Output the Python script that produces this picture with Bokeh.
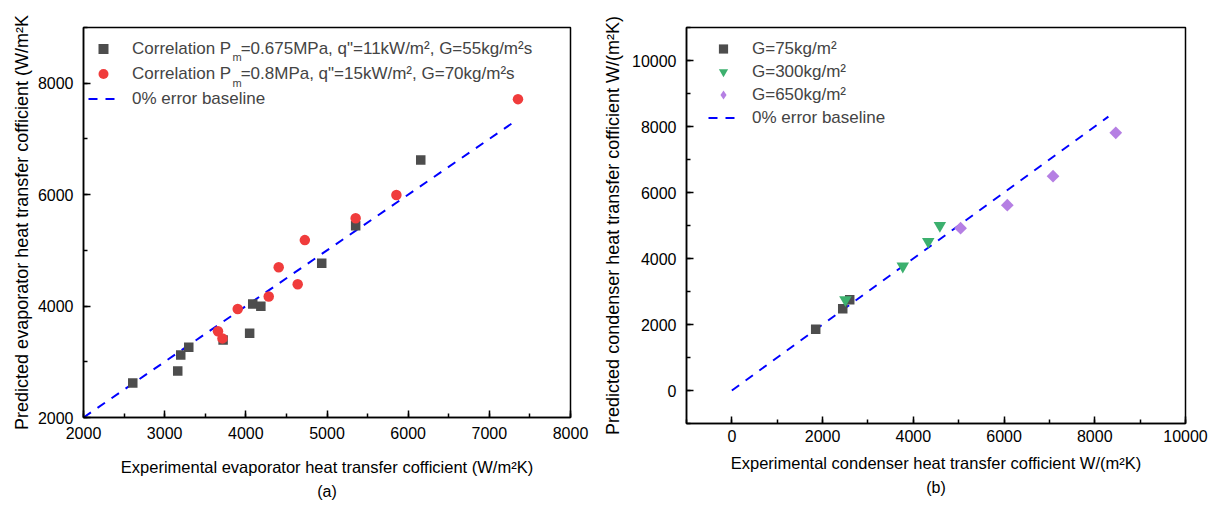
import math
from bokeh.plotting import figure
from bokeh.layouts import row
from bokeh.models import (Legend, LegendItem, Label, SingleIntervalTicker, FixedTicker,
                          LinearAxis, Range1d)
from bokeh.embed import file_html
from bokeh.resources import INLINE

# ---------------- data: (a) evaporator ----------------
evap_sq_x = [2607, 3161, 3198, 3297, 3720, 4047, 4085, 4185, 4935, 5353, 6155]
evap_sq_y = [2620, 2834, 3120, 3262, 3390, 3512, 4036, 3995, 4768, 5441, 6620]
evap_ci_x = [3657, 3712, 3900, 4282, 4405, 4639, 4727, 5353, 5855, 7353]
evap_ci_y = [3548, 3420, 3946, 4173, 4696, 4393, 5184, 5577, 5995, 7714]
evap_base = [2000, 7350]

# ---------------- data: (b) condenser ----------------
cond_g75_x = [1848, 2444, 2598]
cond_g75_y = [1858, 2475, 2748]
cond_g300_x = [2503, 3768, 4329, 4585]
cond_g300_y = [2748, 3767, 4515, 5000]
cond_g650_x = [5042, 6072, 7080, 8463]
cond_g650_y = [4918, 5615, 6494, 7809]
cond_base = [0, 8300]

labels_a = ["Correlation P\u00a0\u00a0=0.675MPa, q\"=11kW/m\u00b2, G=55kg/m\u00b2s",
            "Correlation P\u00a0\u00a0=0.8MPa, q\"=15kW/m\u00b2, G=70kg/m\u00b2s",
            "0% error baseline"]
labels_b = ["G=75kg/m\u00b2", "G=300kg/m\u00b2", "G=650kg/m\u00b2", "0% error baseline"]

FONT = "Liberation Sans"
C_SQ = "#4d4d4d"
C_CI = "#f03c3c"
C_TRI = "#3cb06e"
C_DIA = "#b57fe3"
C_LINE = "#0000ff"


def style(p, xlab, ylab, xint, yint, x_std, xl_std, yl_std):
    p.outline_line_color = "black"
    p.outline_line_width = 1.5
    p.xgrid.visible = False
    p.ygrid.visible = False
    p.xaxis.ticker = SingleIntervalTicker(interval=xint, num_minor_ticks=2)
    p.yaxis.ticker = SingleIntervalTicker(interval=yint, num_minor_ticks=2)
    p.xaxis.axis_label = xlab
    p.yaxis.axis_label = ylab
    for ax in (p.xaxis[0], p.yaxis[0]):
        ax.axis_line_width = 1.5
        ax.axis_line_color = "black"
        ax.major_tick_in = 7
        ax.major_tick_out = 0
        ax.minor_tick_in = 4
        ax.minor_tick_out = 0
        ax.major_tick_line_width = 1.5
        ax.minor_tick_line_width = 1.5
        ax.major_tick_line_color = "black"
        ax.minor_tick_line_color = "black"
        ax.major_label_text_font = FONT
        ax.major_label_text_font_size = "16px"
        ax.major_label_text_color = "black"
        ax.axis_label_text_font = FONT
        ax.axis_label_text_font_style = "normal"
        ax.axis_label_text_color = "black"
    p.xaxis.axis_label_text_font_size = "16.5px"
    p.yaxis.axis_label_text_font_size = "18px"
    p.xaxis.major_label_standoff = x_std
    p.yaxis.major_label_standoff = 10
    p.xaxis.axis_label_standoff = xl_std
    p.yaxis.axis_label_standoff = yl_std


def panel_caption(p, text, standoff):
    cap = LinearAxis(ticker=FixedTicker(ticks=[]), axis_line_color=None,
                     major_tick_in=0, major_tick_out=0, minor_tick_in=0, minor_tick_out=0,
                     major_label_standoff=0, axis_label=text, axis_label_standoff=standoff,
                     axis_label_text_font=FONT, axis_label_text_font_size="16px",
                     axis_label_text_font_style="normal", axis_label_text_color="black")
    p.add_layout(cap, "below")


# ---------------- figure (a) ----------------
p1 = figure(frame_width=487, frame_height=390, x_range=Range1d(2000, 8000), y_range=Range1d(2000, 9000),
            output_backend="svg", toolbar_location=None,
            min_border_left=83, min_border_right=30, min_border_top=25, min_border_bottom=92)
style(p1, "Experimental evaporator heat transfer cofficient (W/m\u00b2K)",
      "Predicted evaporator heat transfer cofficient (W/m\u00b2K", 1000, 2000, 9, 16, 3)

r_line_a = p1.line(evap_base, evap_base, line_color=C_LINE, line_width=2, line_dash="9 8")
r_sq_a = p1.scatter(evap_sq_x, evap_sq_y, marker="square", size=9.5, fill_color=C_SQ, line_color=None)
r_ci_a = p1.scatter(evap_ci_x, evap_ci_y, marker="circle", size=10.5, fill_color=C_CI, line_color=None)

leg_a = Legend(items=[LegendItem(label=labels_a[0], renderers=[r_sq_a]),
                      LegendItem(label=labels_a[1], renderers=[r_ci_a]),
                      LegendItem(label=labels_a[2], renderers=[r_line_a])],
               location=(5, 306), padding=0, margin=0, spacing=0,
               glyph_width=30, glyph_height=25, label_height=25, label_standoff=14,
               border_line_color=None, background_fill_alpha=0,
               label_text_font=FONT, label_text_font_size="17px")
p1.add_layout(leg_a)
for yy in (361, 335):
    p1.add_layout(Label(x=149, y=yy, x_units="screen", y_units="screen", text="m",
                        text_font=FONT, text_font_size="11px", text_baseline="middle"))
panel_caption(p1, "(a)", 4)

# ---------------- figure (b) ----------------
p2 = figure(frame_width=499, frame_height=396, x_range=Range1d(-1000, 10000), y_range=Range1d(-1000, 11000),
            output_backend="svg", toolbar_location=None,
            min_border_left=81, min_border_right=31, min_border_top=27, min_border_bottom=84)
style(p2, "Experimental condenser heat transfer cofficient W/(m\u00b2K)",
      "Predicted condenser heat transfer cofficient W/(m\u00b2K)", 2000, 2000, 6, 9, 6)

r_line_b = p2.line(cond_base, cond_base, line_color=C_LINE, line_width=2, line_dash="9 8")
r_sq_b = p2.scatter(cond_g75_x, cond_g75_y, marker="square", size=9.5, fill_color=C_SQ, line_color=None)
r_tri_b = p2.scatter(cond_g300_x, cond_g300_y, marker="inverted_triangle", size=12.5,
                     fill_color=C_TRI, line_color=None)
r_dia_b = p2.scatter(cond_g650_x, cond_g650_y, marker="square", angle=math.pi / 4, size=9,
                     fill_color=C_DIA, line_color=None)
# legend key only (no visible point): Bokeh legends ignore marker angle, so use the diamond marker
r_dia_key = p2.scatter(x=[float("nan")], y=[float("nan")], marker="diamond", size=12,
                       fill_color=C_DIA, line_color=None)

leg_b = Legend(items=[LegendItem(label=labels_b[0], renderers=[r_sq_b]),
                      LegendItem(label=labels_b[1], renderers=[r_tri_b]),
                      LegendItem(label=labels_b[2], renderers=[r_dia_key]),
                      LegendItem(label=labels_b[3], renderers=[r_line_b])],
               location=(22, 294), padding=0, margin=0, spacing=0,
               glyph_width=30, glyph_height=23, label_height=23, label_standoff=14,
               border_line_color=None, background_fill_alpha=0,
               label_text_font=FONT, label_text_font_size="17px")
p2.add_layout(leg_b)
panel_caption(p2, "(b)", 4)

layout = row(p1, p2, spacing=0)
open("out.html", "w").write(file_html(layout, INLINE))
